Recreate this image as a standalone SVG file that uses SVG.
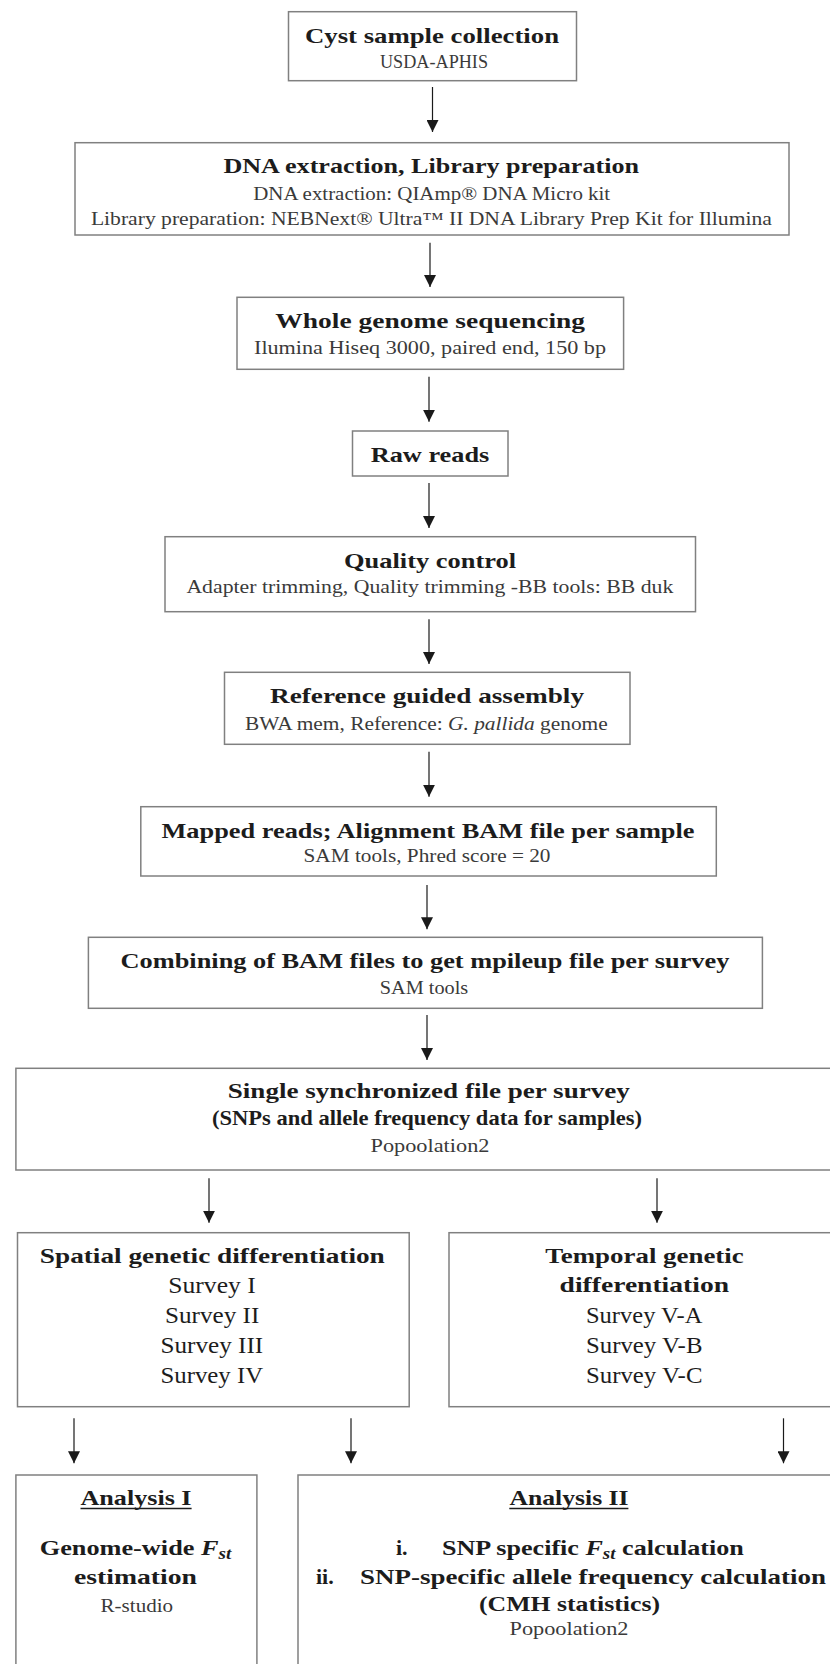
<svg xmlns="http://www.w3.org/2000/svg" width="830" height="1664" viewBox="0 0 830 1664">
<style>
.box{fill:#fff;stroke:#808080;stroke-width:1.5}
.t{font-family:"Liberation Serif",serif;font-weight:bold;font-size:22px;fill:#1c1c1c;text-anchor:middle}
.s{font-family:"Liberation Serif",serif;font-size:18px;fill:#3a3a3a;text-anchor:middle}
.v{font-family:"Liberation Serif",serif;font-size:23px;fill:#1c1c1c;text-anchor:middle}
.l{font-family:"Liberation Serif",serif;font-weight:bold;font-size:22px;fill:#1c1c1c}
.c{stroke:#1a1a1a;stroke-width:1.2;fill:none;marker-end:url(#ah)}
</style>
<defs>
<marker id="ah" markerUnits="userSpaceOnUse" markerWidth="12" markerHeight="12" refX="12" refY="6" orient="auto">
<path d="M0,0 L12,6 L0,12 Z" fill="#1a1a1a"/>
</marker>
</defs>
<rect width="830" height="1664" fill="#fff"/>
<g id="connectors">
<line class="c" x1="432.5" y1="87" x2="432.5" y2="132"/>
<line class="c" x1="430" y1="242.7" x2="430" y2="287"/>
<line class="c" x1="429" y1="376.7" x2="429" y2="421.7"/>
<line class="c" x1="429" y1="483" x2="429" y2="528"/>
<line class="c" x1="429" y1="619.3" x2="429" y2="664"/>
<line class="c" x1="429" y1="751.7" x2="429" y2="796.7"/>
<line class="c" x1="427" y1="885" x2="427" y2="929.3"/>
<line class="c" x1="427" y1="1015" x2="427" y2="1060"/>
<line class="c" x1="209" y1="1178.3" x2="209" y2="1222.7"/>
<line class="c" x1="657" y1="1178.3" x2="657" y2="1222.7"/>
<line class="c" x1="74" y1="1418.3" x2="74" y2="1463.3"/>
<line class="c" x1="351" y1="1418.3" x2="351" y2="1463.3"/>
<line class="c" x1="783.5" y1="1418.3" x2="783.5" y2="1463.3"/>
</g>
<g id="cyst">
<rect class="box" x="288.5" y="11.7" width="288" height="69"/>
<text class="t" x="432" y="43.3" textLength="254" lengthAdjust="spacingAndGlyphs">Cyst sample collection</text>
<text class="s" x="434" y="68.3" textLength="108" lengthAdjust="spacingAndGlyphs">USDA-APHIS</text>
</g>
<g id="dna">
<rect class="box" x="75" y="142.7" width="714" height="92.3"/>
<text class="t" x="431.2" y="173.3" textLength="415.6" lengthAdjust="spacingAndGlyphs">DNA extraction, Library preparation</text>
<text class="s" x="431.7" y="200" textLength="357" lengthAdjust="spacingAndGlyphs">DNA extraction: QIAmp® DNA Micro kit</text>
<text class="s" x="431.4" y="225" textLength="681" lengthAdjust="spacingAndGlyphs">Library preparation: NEBNext® Ultra™  II DNA Library Prep Kit for Illumina</text>
</g>
<g id="wgs">
<rect class="box" x="237" y="297.3" width="386.6" height="72"/>
<text class="t" x="430.2" y="328.3" textLength="309.7" lengthAdjust="spacingAndGlyphs">Whole genome sequencing</text>
<text class="s" x="430" y="354" textLength="352" lengthAdjust="spacingAndGlyphs">Ilumina Hiseq 3000, paired end, 150 bp</text>
</g>
<g id="raw">
<rect class="box" x="352.5" y="431" width="155.5" height="45"/>
<text class="t" x="430" y="461.7" textLength="118.6" lengthAdjust="spacingAndGlyphs">Raw reads</text>
</g>
<g id="qc">
<rect class="box" x="165" y="536.7" width="530.5" height="75"/>
<text class="t" x="430" y="567.7" textLength="172" lengthAdjust="spacingAndGlyphs">Quality control</text>
<text class="s" x="429.9" y="593" textLength="487" lengthAdjust="spacingAndGlyphs">Adapter trimming, Quality trimming -BB tools: BB duk</text>
</g>
<g id="ref">
<rect class="box" x="224.5" y="672.3" width="405.5" height="72"/>
<text class="t" x="427" y="703.3" textLength="314" lengthAdjust="spacingAndGlyphs">Reference guided assembly</text>
<text class="s" x="426.4" y="730" textLength="362.6" lengthAdjust="spacingAndGlyphs">BWA mem, Reference: <tspan font-style="italic">G. pallida</tspan> genome</text>
</g>
<g id="mapped">
<rect class="box" x="140.8" y="806.7" width="575.5" height="69.3"/>
<text class="t" x="428" y="837.7" textLength="533" lengthAdjust="spacingAndGlyphs">Mapped reads; Alignment BAM file per sample</text>
<text class="s" x="427" y="861.7" textLength="247" lengthAdjust="spacingAndGlyphs">SAM tools, Phred score = 20</text>
</g>
<g id="combine">
<rect class="box" x="88.4" y="937.3" width="674" height="71"/>
<text class="t" x="425" y="968.3" textLength="608.8" lengthAdjust="spacingAndGlyphs">Combining of BAM files to get mpileup file per survey</text>
<text class="s" x="424" y="994" textLength="88.4" lengthAdjust="spacingAndGlyphs">SAM tools</text>
</g>
<g id="sync">
<rect class="box" x="15.9" y="1068.3" width="830" height="101.7"/>
<text class="t" x="428.8" y="1098.3" textLength="402" lengthAdjust="spacingAndGlyphs">Single synchronized file per survey</text>
<text class="t" x="427" y="1125" textLength="430" lengthAdjust="spacingAndGlyphs">(SNPs and allele frequency data for samples)</text>
<text class="s" x="430" y="1151.7" textLength="119" lengthAdjust="spacingAndGlyphs">Popoolation2</text>
</g>
<g id="spatial">
<rect class="box" x="17.5" y="1232.7" width="391.7" height="174"/>
<text class="t" x="212.3" y="1262.7" textLength="345" lengthAdjust="spacingAndGlyphs">Spatial genetic differentiation</text>
<text class="v" x="212" y="1293.3" textLength="87.4" lengthAdjust="spacingAndGlyphs">Survey I</text>
<text class="v" x="212.2" y="1323.3" textLength="94.4" lengthAdjust="spacingAndGlyphs">Survey II</text>
<text class="v" x="211.8" y="1353.3" textLength="102.7" lengthAdjust="spacingAndGlyphs">Survey III</text>
<text class="v" x="211.8" y="1383.3" textLength="102.7" lengthAdjust="spacingAndGlyphs">Survey IV</text>
</g>
<g id="temporal">
<rect class="box" x="449" y="1232.7" width="400" height="174"/>
<text class="t" x="644.5" y="1262.7" textLength="198.5" lengthAdjust="spacingAndGlyphs">Temporal genetic</text>
<text class="t" x="644.3" y="1291.7" textLength="169.4" lengthAdjust="spacingAndGlyphs">differentiation</text>
<text class="v" x="644.2" y="1323.3" textLength="116.5" lengthAdjust="spacingAndGlyphs">Survey V-A</text>
<text class="v" x="644.2" y="1353.3" textLength="116.5" lengthAdjust="spacingAndGlyphs">Survey V-B</text>
<text class="v" x="644.2" y="1383.3" textLength="116.5" lengthAdjust="spacingAndGlyphs">Survey V-C</text>
</g>
<g id="analysis1">
<rect class="box" x="15.9" y="1475" width="241" height="220"/>
<text class="t" x="136" y="1505" textLength="111" lengthAdjust="spacingAndGlyphs">Analysis I</text>
<line x1="80.5" y1="1508.5" x2="191.6" y2="1508.5" stroke="#1c1c1c" stroke-width="1.5"/>
<text class="t" x="135.5" y="1555" textLength="191.6" lengthAdjust="spacingAndGlyphs">Genome-wide <tspan font-style="italic">F</tspan><tspan font-style="italic" font-size="16" dy="4">st</tspan></text>
<text class="t" x="135.5" y="1584" textLength="123" lengthAdjust="spacingAndGlyphs">estimation</text>
<text class="s" x="136.8" y="1612" textLength="72.5" lengthAdjust="spacingAndGlyphs">R-studio</text>
</g>
<g id="analysis2">
<rect class="box" x="298" y="1475" width="560" height="220"/>
<text class="t" x="569" y="1505" textLength="119" lengthAdjust="spacingAndGlyphs">Analysis II</text>
<line x1="509.3" y1="1508.5" x2="628.4" y2="1508.5" stroke="#1c1c1c" stroke-width="1.5"/>
<text class="l" x="396" y="1555">i.</text>
<text class="l" x="442" y="1555" textLength="301.8" lengthAdjust="spacingAndGlyphs">SNP specific <tspan font-style="italic">F</tspan><tspan font-style="italic" font-size="16" dy="4">st</tspan><tspan dy="-4"> calculation</tspan></text>
<text class="l" x="316" y="1584">ii.</text>
<text class="l" x="360" y="1584" textLength="466" lengthAdjust="spacingAndGlyphs">SNP-specific allele frequency calculation</text>
<text class="t" x="569.5" y="1611" textLength="181" lengthAdjust="spacingAndGlyphs">(CMH statistics)</text>
<text class="s" x="569" y="1635" textLength="119" lengthAdjust="spacingAndGlyphs">Popoolation2</text>
</g>
</svg>
